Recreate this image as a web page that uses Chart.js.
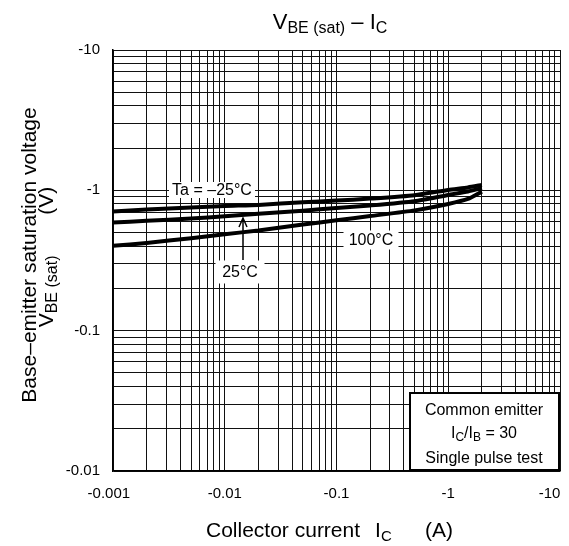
<!DOCTYPE html>
<html lang="en">
<head>
<meta charset="UTF-8">
<title>VBE (sat) - IC</title>
<script src="https://cdn.jsdelivr.net/npm/chart.js"></script>
<style>
  body { margin: 0; background: #fff; }
</style>
</head>
<body>
<canvas id="vbeChart" width="569" height="546"></canvas>
<script>
// collector current (A), plotted as magnitude - the tick labels carry the minus sign
var current = [0.001, 0.002, 0.005, 0.01, 0.02, 0.05, 0.1, 0.2, 0.5, 1, 1.5, 2];
var vbeMinus25 = [0.707, 0.731, 0.755, 0.774, 0.787, 0.823, 0.845, 0.873, 0.923, 1.007, 1.049, 1.092];
var vbe25 = [0.589, 0.606, 0.630, 0.653, 0.682, 0.716, 0.749, 0.780, 0.836, 0.927, 0.982, 1.04];
var vbe100 = [0.402, 0.422, 0.456, 0.487, 0.517, 0.570, 0.611, 0.656, 0.720, 0.800, 0.868, 0.979];

var xDecades = [0.001, 0.01, 0.1, 1, 10];
var xTickLabels = ['-0.001', '-0.01', '-0.1', '-1', '-10'];
var yDecades = [0.01, 0.1, 1, 10];
var yTickLabels = ['-0.01', '-0.1', '-1', '-10'];

var FONT = "'Liberation Sans', Arial, sans-serif";
var NB = '\u00a0';

function logTicks(decades) {
    var t = [];
    for (var i = 0; i < decades.length - 1; i++) {
        for (var m = 1; m < 10; m++) t.push({ value: decades[i] * m });
    }
    t.push({ value: decades[decades.length - 1] });
    return t;
}

function decadeIndex(decades, v) {
    for (var i = 0; i < decades.length; i++) {
        if (Math.abs(v / decades[i] - 1) < 1e-6) return i;
    }
    return -1;
}

function pts(ys) {
    return current.map(function (c, i) { return { x: c, y: ys[i] }; });
}

// draws text pieces (text, size, baseline shift) centred on x
function drawParts(ctx, parts, x, y) {
    var w = 0;
    parts.forEach(function (p) { ctx.font = p[1] + 'px ' + FONT; w += ctx.measureText(p[0]).width; });
    var cx = x - w / 2;
    ctx.textAlign = 'left';
    ctx.textBaseline = 'alphabetic';
    parts.forEach(function (p) {
        ctx.font = p[1] + 'px ' + FONT;
        ctx.fillText(p[0], cx, y + p[2]);
        cx += ctx.measureText(p[0]).width;
    });
}

function boxedLabel(ctx, text, cx, cy, w, h) {
    ctx.fillStyle = '#fff';
    ctx.fillRect(cx - w / 2, cy - h / 2, w, h);
    ctx.fillStyle = '#000';
    ctx.font = '16px ' + FONT;
    ctx.textAlign = 'center';
    ctx.textBaseline = 'middle';
    ctx.fillText(text, cx, cy + 1);
}

var annotate = {
    id: 'annotate',
    afterDatasetsDraw: function (chart) {
        var ctx = chart.ctx;
        ctx.save();
        ctx.fillStyle = '#000';

        // title
        drawParts(ctx, [['V', 22, 0], ['BE (sat)', 16, 4], [' \u2013 ', 22, 0], ['I', 22, 0], ['C', 16, 4]], 330, 29);

        // x axis title
        ctx.font = '21px ' + FONT;
        ctx.textAlign = 'left';
        ctx.fillText('Collector current', 206, 537);
        ctx.fillText('I', 375, 537);
        ctx.font = '15px ' + FONT;
        ctx.fillText('C', 381, 541);
        ctx.font = '21px ' + FONT;
        ctx.fillText('(A)', 425, 537);

        // y axis title, two rotated lines
        ctx.save();
        ctx.translate(36, 255);
        ctx.rotate(-Math.PI / 2);
        drawParts(ctx, [['Base\u2013emitter saturation voltage', 21, 0]], 0, 0);
        ctx.restore();
        ctx.save();
        ctx.translate(53, 257);
        ctx.rotate(-Math.PI / 2);
        drawParts(ctx, [['V', 21, 0], ['BE (sat)', 16, 4], [NB + NB + NB + NB + NB + NB + NB + '(V)', 21, 0]], 0, 0);
        ctx.restore();

        // curve labels
        boxedLabel(ctx, 'Ta = \u201325\u00b0C', 212, 190, 86, 16);
        boxedLabel(ctx, '25\u00b0C', 240, 272, 49, 23);
        boxedLabel(ctx, '100\u00b0C', 371, 240, 55, 19);

        // arrow from 25°C up to its curve
        ctx.strokeStyle = '#000';
        ctx.lineWidth = 1.5;
        ctx.beginPath();
        ctx.moveTo(243, 260);
        ctx.lineTo(243, 219);
        ctx.moveTo(239, 227);
        ctx.lineTo(243, 218);
        ctx.lineTo(247, 227);
        ctx.stroke();

        // conditions box
        ctx.fillStyle = '#fff';
        ctx.fillRect(410, 393, 150, 78);
        ctx.lineWidth = 2;
        ctx.strokeRect(410, 393, 149, 77);
        ctx.fillStyle = '#000';
        drawParts(ctx, [['Common emitter', 16, 0]], 484, 415);
        drawParts(ctx, [['I', 16, 0], ['C', 12, 3], ['/I', 16, 0], ['B', 12, 3], [' = 30', 16, 0]], 484, 438);
        drawParts(ctx, [['Single pulse test', 16, 0]], 484, 463);

        ctx.restore();
    }
};

var curveStyle = { borderColor: '#000', borderWidth: 4, pointRadius: 0, tension: 0.2, fill: false };

var ctx = document.getElementById('vbeChart').getContext('2d');
var vbeChart = new Chart(ctx, {
    type: 'line',
    data: {
        datasets: [
            Object.assign({ label: 'Ta = -25°C', data: pts(vbeMinus25) }, curveStyle),
            Object.assign({ label: '25°C', data: pts(vbe25) }, curveStyle),
            Object.assign({ label: '100°C', data: pts(vbe100) }, curveStyle)
        ]
    },
    options: {
        responsive: false,
        animation: false,
        layout: { padding: { top: 50, right: 9, left: 0, bottom: 0 } },
        plugins: { legend: { display: false }, tooltip: { enabled: false } },
        scales: {
            x: {
                type: 'logarithmic',
                min: 0.001,
                max: 10,
                grid: { color: '#111', lineWidth: 1, drawTicks: false },
                border: { color: '#000', width: 1.5 },
                ticks: {
                    autoSkip: false,
                    maxRotation: 0,
                    padding: 14,
                    color: '#000',
                    font: { family: FONT, size: 15 },
                    callback: function (v) {
                        var i = decadeIndex(xDecades, v);
                        if (i < 0) return '';
                        // shift the end labels so they sit like the original
                        if (i === 0) return xTickLabels[i] + NB + NB;
                        if (i === xDecades.length - 1) return xTickLabels[i] + NB + NB + NB + NB + NB;
                        return xTickLabels[i];
                    }
                },
                afterBuildTicks: function (s) { s.ticks = logTicks(xDecades); },
                afterFit: function (s) { s.height = 75; s.paddingLeft = 0; s.paddingRight = 0; }
            },
            y: {
                type: 'logarithmic',
                min: 0.01,
                max: 10,
                grid: { color: '#111', lineWidth: 1, drawTicks: false },
                border: { color: '#000', width: 1.5 },
                ticks: {
                    autoSkip: false,
                    padding: 13,
                    color: '#000',
                    font: { family: FONT, size: 15 },
                    callback: function (v) {
                        var i = decadeIndex(yDecades, v);
                        return i < 0 ? '' : yTickLabels[i];
                    }
                },
                afterBuildTicks: function (s) { s.ticks = logTicks(yDecades); },
                afterFit: function (s) { s.width = 113; s.paddingTop = 0; s.paddingBottom = 0; }
            }
        }
    },
    plugins: [annotate]
});
</script>
</body>
</html>
